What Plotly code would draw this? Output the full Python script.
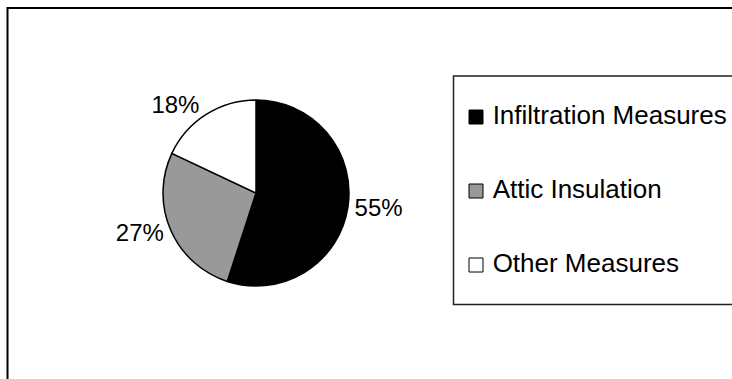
import plotly.graph_objects as go

# ---- data ----
categories = ["Infiltration Measures", "Attic Insulation", "Other Measures"]
shares = [55, 27, 18]
colors = ["#000000", "#999999", "#FFFFFF"]

W, H = 732, 379
FONT = "Arial, 'Liberation Sans', Helvetica, sans-serif"

fig = go.Figure()

# pie
cx, cy, r = 256, 193, 93
fig.add_trace(go.Pie(
    labels=categories,
    values=shares,
    sort=False,
    direction="clockwise",
    rotation=0,
    marker=dict(colors=colors, line=dict(color="#000000", width=1.5)),
    textinfo="percent",
    texttemplate="%{percent:.0%}",
    textposition="outside",
    textfont=dict(family=FONT, size=24, color="#000000"),
    domain=dict(x=[(cx - r) / W, (cx + r) / W], y=[1 - (cy + r) / H, 1 - (cy - r) / H]),
    showlegend=False,
    hoverinfo="label+percent",
))

# legend swatches, drawn from the category list on hidden axes
fig.add_trace(go.Scatter(
    x=[0] * len(categories),
    y=categories,
    mode="markers",
    marker=dict(symbol="square", size=14, color=colors, line=dict(color="#000000", width=1)),
    cliponaxis=False,
    showlegend=False,
    hoverinfo="skip",
))
# legend labels
fig.add_trace(go.Scatter(
    x=[0] * len(categories),
    y=categories,
    mode="markers+text",
    marker=dict(symbol="square", size=25, color="rgba(0,0,0,0)"),
    text=categories,
    textposition="middle right",
    textfont=dict(family=FONT, size=26, color="#000000"),
    cliponaxis=False,
    showlegend=False,
    hoverinfo="skip",
))

row_top, row_bot = 80, 302
fig.update_layout(
    width=W, height=H,
    margin=dict(l=0, r=0, t=0, b=0),
    paper_bgcolor="#FFFFFF",
    plot_bgcolor="rgba(0,0,0,0)",
    xaxis=dict(domain=[470 / W, 482 / W], range=[-1, 1], visible=False, fixedrange=True),
    yaxis=dict(domain=[1 - row_bot / H, 1 - row_top / H], type="category",
               range=[2.5, -0.5], visible=False, fixedrange=True),
    shapes=[
        # outer chart frame (cropped at right and bottom)
        dict(type="rect", xref="paper", yref="paper",
             x0=7.5 / W, x1=1.1, y0=-0.1, y1=1 - 8 / H,
             line=dict(color="#000000", width=2), fillcolor="rgba(0,0,0,0)", layer="below"),
        # legend box
        dict(type="rect", xref="paper", yref="paper",
             x0=453.5 / W, x1=1.1, y0=1 - 304.5 / H, y1=1 - 76 / H,
             line=dict(color="#222222", width=1.5), fillcolor="rgba(0,0,0,0)", layer="below"),
    ],
    font=dict(family=FONT),
)

fig.write_html("out.html", config={"displayModeBar": False})
